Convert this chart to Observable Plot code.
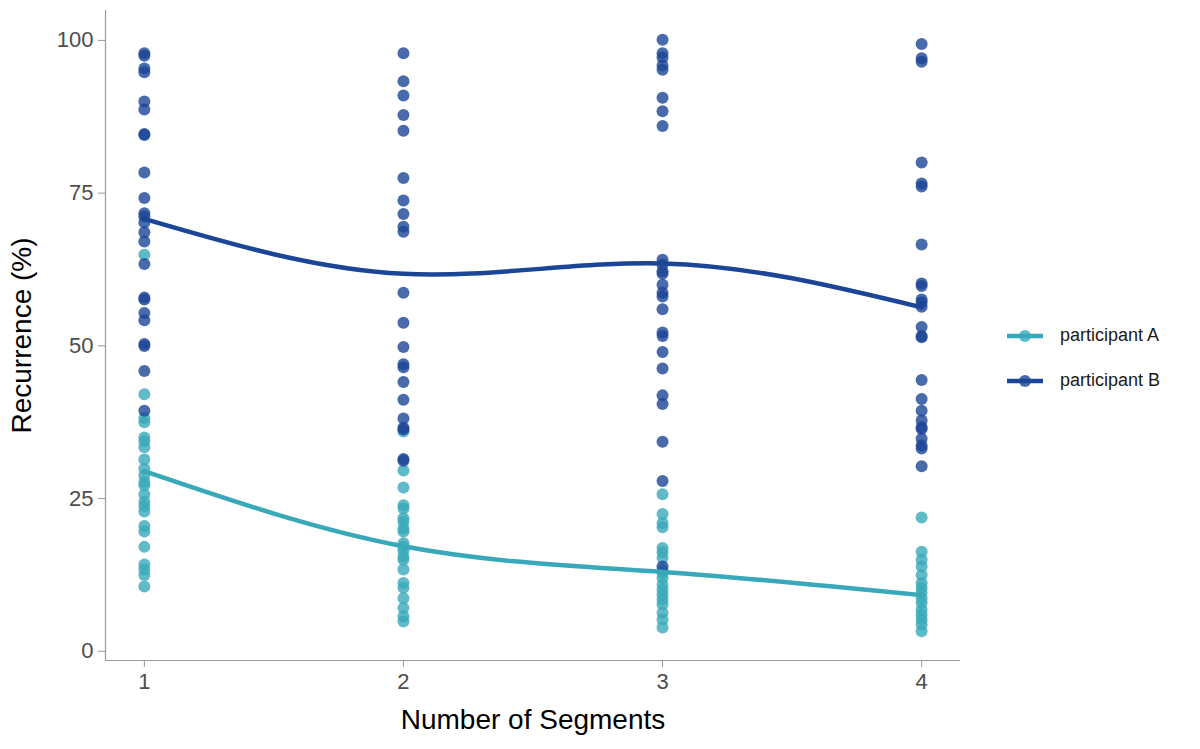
<!DOCTYPE html>
<html>
<head>
<meta charset="utf-8">
<script src="https://cdn.jsdelivr.net/npm/d3@7"></script>
<script src="https://cdn.jsdelivr.net/npm/@observablehq/plot@0.6"></script>
<style>
  html, body { margin: 0; padding: 0; background: #fff; }
  #wrap { position: relative; width: 1200px; height: 749px; font-family: "Liberation Sans", Arial, sans-serif; }
  #legend { position: absolute; left: 1005px; top: 313px; font-size: 18px; color: #1a1a1a; }
  .item { display: flex; align-items: center; height: 45px; }
  .item svg { margin-right: 15px; }
</style>
</head>
<body>
<div id="wrap"><div id="chart"></div><div id="legend"></div></div>
<script>
const segments = [1, 2, 3, 4];
const seriesNames = ["participant A", "participant B"];
const colors = ["#38a9b9", "#1b4596"];

// participant A recurrence values per segment
const a1 = [64.9, 42.1, 38.2, 37.5, 35.0, 34.4, 33.4, 31.4, 29.9, 28.8, 27.7, 27.2, 25.7, 24.5, 23.8, 22.9, 20.5, 19.6, 17.1, 14.2, 13.4, 12.5, 10.6];
const a2 = [36.0, 29.6, 26.8, 23.9, 23.4, 21.8, 21.2, 20.1, 19.6, 17.7, 17.1, 16.5, 15.5, 15.0, 13.4, 11.2, 10.4, 8.7, 7.1, 5.7, 4.9];
const a3 = [25.7, 22.5, 21.0, 20.3, 16.9, 16.2, 15.3, 13.3, 12.8, 12.0, 10.9, 10.1, 9.3, 8.5, 7.7, 6.3, 5.2, 3.9];
const a4 = [21.9, 16.3, 15.0, 13.9, 12.5, 11.2, 10.4, 9.6, 8.7, 7.9, 6.8, 6.0, 5.2, 4.4, 3.3];

// participant B recurrence values per segment
const b1 = [97.9, 97.5, 95.4, 94.8, 90.0, 88.7, 84.7, 84.5, 78.4, 74.2, 71.7, 71.2, 70.2, 68.6, 67.1, 63.4, 57.9, 57.6, 55.4, 54.2, 50.3, 50.0, 45.9, 39.4];
const b2 = [97.9, 93.3, 91.0, 87.8, 85.2, 77.5, 73.8, 71.6, 69.5, 68.7, 58.7, 53.8, 49.8, 47.0, 46.5, 44.1, 41.2, 38.1, 36.6, 36.3, 31.5, 31.2];
const b3 = [100.1, 97.9, 97.2, 95.9, 95.2, 90.6, 88.4, 86.0, 64.1, 63.3, 62.2, 61.8, 60.0, 58.7, 58.1, 56.0, 52.2, 51.6, 49.0, 46.3, 41.9, 40.5, 34.3, 27.9, 13.9];
const b4 = [99.4, 97.1, 96.5, 80.0, 76.6, 76.1, 66.6, 60.2, 59.8, 57.6, 57.1, 56.4, 53.1, 51.6, 51.4, 44.4, 41.3, 39.4, 37.8, 36.7, 36.4, 34.8, 33.7, 33.2, 30.3];

// smoothed trend values at each segment
const fitA = [29.5, 17.2, 13.0, 9.2];
const fitB = [70.8, 61.8, 63.5, 56.3];

const yTicks = [0, 25, 50, 75, 100];

const pts = [];
[[a1, a2, a3, a4], [b1, b2, b3, b4]].forEach((cols, si) => {
  cols.forEach((vals, ci) => vals.forEach(v => pts.push({seg: segments[ci], value: v, series: seriesNames[si]})));
});
const fits = [];
[fitA, fitB].forEach((f, si) => f.forEach((v, i) => fits.push({seg: segments[i], value: v, series: seriesNames[si]})));

const chart = Plot.plot({
  width: 1200,
  height: 749,
  marginLeft: 105,
  marginRight: 240,
  marginTop: 10,
  marginBottom: 89,
  style: {fontFamily: "'Liberation Sans', Arial, sans-serif", background: "#fff"},
  x: {domain: [0.85, 4.15], ticks: segments, tickFormat: d3.format("d")},
  y: {domain: [-1.5, 104.9], ticks: yTicks},
  color: {domain: seriesNames, range: colors},
  marks: [
    Plot.dot(pts, {x: "seg", y: "value", fill: "series", r: 6, fillOpacity: 0.8, stroke: "none"}),
    Plot.line(fits, {x: "seg", y: "value", stroke: "series", z: "series", strokeWidth: 4.5, curve: "natural"}),
    Plot.axisX({ticks: segments, tickFormat: d3.format("d"), tickSize: 7, tickPadding: 6, fontSize: 22, color: "#4d4d4d", stroke: "#999", label: null}),
    Plot.axisY({ticks: yTicks, tickSize: 7, tickPadding: 5, fontSize: 22, color: "#4d4d4d", stroke: "#999", label: null}),
    Plot.ruleY([-1.5], {stroke: "#999", strokeWidth: 1.2}),
    Plot.ruleX([0.85], {stroke: "#999", strokeWidth: 1.2}),
    Plot.text(["Number of Segments"], {frameAnchor: "bottom", dy: 68, fontSize: 28, fill: "#000"}),
    Plot.text(["Recurrence (%)"], {frameAnchor: "left", dx: -83, rotate: -90, textAnchor: "middle", fontSize: 28, fill: "#000"})
  ]
});
document.getElementById("chart").appendChild(chart);

const legend = document.getElementById("legend");
seriesNames.forEach((name, i) => {
  const div = document.createElement("div");
  div.className = "item";
  div.innerHTML = `<svg width="40" height="16"><line x1="2" x2="38" y1="8" y2="8" stroke="${colors[i]}" stroke-width="4.5"/><circle cx="20" cy="8" r="6" fill="${colors[i]}" fill-opacity="0.8"/></svg><span>${name}</span>`;
  legend.appendChild(div);
});
</script>
</body>
</html>
